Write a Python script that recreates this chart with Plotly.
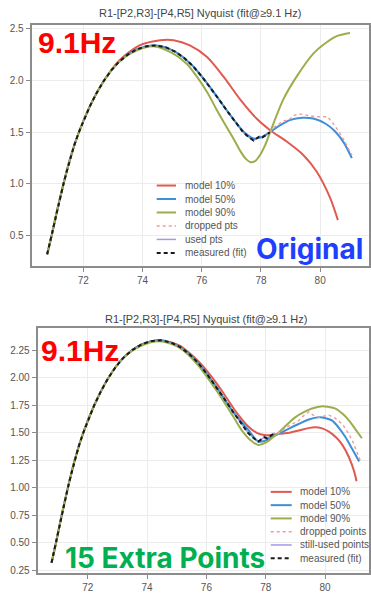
import plotly.graph_objects as go

W, H = 371, 593

# ---------------- data ----------------
meas_x = [70.78, 70.85, 70.93, 71.02, 71.12, 71.22, 71.33, 71.44, 71.56, 71.70, 71.85, 72.02,
          72.22, 72.45, 72.70, 72.95, 73.20, 73.50, 73.80, 74.10, 74.45, 74.80, 75.10, 75.40,
          75.70, 76.00, 76.30, 76.60, 76.90, 77.15, 77.40, 77.60, 77.75, 77.85, 77.95, 78.05,
          78.15, 78.30]
meas_y = [0.32, 0.41, 0.50, 0.62, 0.75, 0.88, 1.00, 1.12, 1.25, 1.38, 1.50, 1.62,
          1.75, 1.88, 2.00, 2.10, 2.18, 2.25, 2.30, 2.33, 2.34, 2.32, 2.28, 2.22,
          2.14, 2.04, 1.93, 1.81, 1.69, 1.59, 1.50, 1.45, 1.42, 1.44, 1.46, 1.45,
          1.47, 1.50]

# Original (top) models
o10_x = [70.78, 70.93, 71.12, 71.33, 71.56, 71.85, 72.22, 72.70, 73.20, 73.90, 74.60, 75.05,
         75.60, 76.17, 76.73, 77.29, 77.86, 78.31, 78.87, 79.43, 79.88, 80.33, 80.60]
o10_y = [0.32, 0.50, 0.75, 1.00, 1.25, 1.50, 1.75, 2.00, 2.19, 2.34, 2.39, 2.39,
         2.34, 2.23, 2.04, 1.82, 1.63, 1.52, 1.41, 1.28, 1.12, 0.87, 0.65]
o50_x = [70.78, 70.93, 71.12, 71.33, 71.56, 71.85, 72.22, 72.70, 73.20, 73.80, 74.45, 75.10,
         75.70, 76.30, 76.90, 77.40, 77.75, 78.00, 78.30, 78.60, 79.00, 79.40, 79.80, 80.20,
         80.50, 80.80, 81.07]
o50_y = [0.32, 0.50, 0.75, 1.00, 1.25, 1.50, 1.75, 2.00, 2.18, 2.30, 2.34, 2.28,
         2.14, 1.93, 1.69, 1.51, 1.44, 1.45, 1.50, 1.56, 1.62, 1.64, 1.63, 1.58,
         1.51, 1.40, 1.25]
o90_x = [70.78, 70.93, 71.12, 71.33, 71.56, 71.85, 72.22, 72.70, 73.20, 73.80, 74.40, 75.04,
         75.50, 75.83, 76.20, 76.50, 76.80, 77.07, 77.30, 77.50, 77.65, 77.80, 77.97, 78.15,
         78.31, 78.76, 79.21, 79.77, 80.22, 80.56, 81.01]
o90_y = [0.32, 0.50, 0.75, 1.00, 1.25, 1.50, 1.75, 2.00, 2.18, 2.29, 2.33, 2.26,
         2.16, 2.04, 1.88, 1.72, 1.57, 1.44, 1.32, 1.24, 1.21, 1.22, 1.28, 1.38,
         1.50, 1.82, 2.04, 2.26, 2.37, 2.43, 2.46]
odrop_x = [78.30, 78.45, 78.60, 78.76, 78.95, 79.10, 79.25, 79.45, 79.65, 79.85, 80.05, 80.25,
           80.45, 80.65, 80.85, 81.07]
odrop_y = [1.50, 1.55, 1.58, 1.61, 1.62, 1.66, 1.68, 1.67, 1.66, 1.65, 1.65, 1.65,
           1.58, 1.50, 1.40, 1.28]

# 15 extra points (bottom) models
e10_x = [70.78, 70.93, 71.12, 71.33, 71.56, 71.85, 72.22, 72.70, 73.20, 73.80, 74.45, 75.10,
         75.40, 75.80, 76.20, 76.60, 77.00, 77.40, 77.70, 77.95, 78.20, 78.43, 78.80, 79.11,
         79.40, 79.67, 79.90, 80.13, 80.40, 80.58, 80.80, 80.98, 81.06]
e10_y = [0.32, 0.50, 0.75, 1.00, 1.25, 1.50, 1.75, 2.00, 2.18, 2.30, 2.34, 2.29,
         2.23, 2.13, 2.00, 1.85, 1.69, 1.56, 1.50, 1.48, 1.48, 1.49, 1.50, 1.52,
         1.54, 1.55, 1.54, 1.51, 1.45, 1.39, 1.28, 1.15, 1.06]
e50_x = [70.78, 70.93, 71.12, 71.33, 71.56, 71.85, 72.22, 72.70, 73.20, 73.80, 74.45, 75.10,
         75.70, 76.30, 76.90, 77.40, 77.75, 78.00, 78.20, 78.43, 78.80, 79.11, 79.45, 79.79,
         80.05, 80.24, 80.45, 80.69, 80.90, 81.15]
e50_y = [0.32, 0.50, 0.75, 1.00, 1.25, 1.50, 1.75, 2.00, 2.18, 2.30, 2.34, 2.28,
         2.14, 1.93, 1.69, 1.53, 1.42, 1.43, 1.46, 1.49, 1.54, 1.58, 1.62, 1.64,
         1.63, 1.61, 1.55, 1.46, 1.36, 1.24]
e90_x = [70.78, 70.93, 71.12, 71.33, 71.56, 71.85, 72.22, 72.70, 73.20, 73.80, 74.45, 75.10,
         75.70, 76.30, 76.90, 77.20, 77.50, 77.75, 78.00, 78.20, 78.43, 78.70, 78.99, 79.30,
         79.56, 79.90, 80.10, 80.35, 80.60, 80.81, 81.00, 81.24]
e90_y = [0.32, 0.50, 0.75, 1.00, 1.25, 1.50, 1.75, 2.00, 2.18, 2.29, 2.33, 2.27,
         2.12, 1.90, 1.65, 1.52, 1.43, 1.39, 1.41, 1.45, 1.50, 1.57, 1.64, 1.69,
         1.72, 1.74, 1.735, 1.72, 1.67, 1.61, 1.54, 1.45]
edrop_x = [78.40, 78.70, 78.90, 79.11, 79.30, 79.45, 79.60, 79.79, 79.95, 80.13, 80.35, 80.58,
           80.75, 80.92, 81.05, 81.20]
edrop_y = [1.49, 1.55, 1.58, 1.61, 1.66, 1.69, 1.66, 1.64, 1.65, 1.66, 1.63, 1.58,
           1.51, 1.43, 1.34, 1.24]

title_text = "R1-[P2,R3]-[P4,R5] Nyquist (fit@≥9.1 Hz)"
legend_top = ["model 10%", "model 50%", "model 90%", "dropped pts", "used pts", "measured (fit)"]
legend_bot = ["model 10%", "model 50%", "model 90%", "dropped points", "still-used points", "measured (fit)"]

# ---------------- styles ----------------
C10, C50, C90 = "#e05a50", "#3f8fd8", "#9aae4c"
CDROP, CUSED, CMEAS = "#f29a9a", "#a39ae6", "#1a1a1a"
styles = [
    dict(color=C10, width=2, dash="solid"),
    dict(color=C50, width=2, dash="solid"),
    dict(color=C90, width=2, dash="solid"),
    dict(color=CDROP, width=1.4, dash="dot"),
    dict(color=CUSED, width=1.5, dash="solid"),
    dict(color=CMEAS, width=2, dash="4px,3px"),
]

fig = go.Figure()

def add_panel(xa, ya, models, drop):
    fig.add_trace(go.Scatter(x=meas_x, y=meas_y, mode="lines", line=styles[4],
                             xaxis=xa, yaxis=ya, showlegend=False))
    for (mx, my), st in zip(models, styles[:3]):
        fig.add_trace(go.Scatter(x=mx, y=my, mode="lines", line=dict(**st, shape="spline", smoothing=0.8),
                                 xaxis=xa, yaxis=ya, showlegend=False))
    fig.add_trace(go.Scatter(x=drop[0], y=drop[1], mode="lines", line=styles[3],
                             xaxis=xa, yaxis=ya, showlegend=False))
    fig.add_trace(go.Scatter(x=meas_x, y=meas_y, mode="lines", line=styles[5],
                             xaxis=xa, yaxis=ya, showlegend=False))

add_panel("x", "y", [(o10_x, o10_y), (o50_x, o50_y), (o90_x, o90_y)], (odrop_x, odrop_y))
add_panel("x2", "y2", [(e10_x, e10_y), (e50_x, e50_y), (e90_x, e90_y)], (edrop_x, edrop_y))

def px(x):
    return x / W

def py(y):
    return 1 - y / H

axis_common = dict(showline=True, mirror=True, linecolor="#8c8c8c", linewidth=2,
                   showgrid=True, gridcolor="#ececec", gridwidth=1, zeroline=False,
                   ticks="outside", ticklen=4, tickcolor="#8c8c8c", tickwidth=1,
                   tickfont=dict(family="Liberation Sans, Arial", size=10, color="#555"))

fig.update_layout(
    width=W, height=H, margin=dict(l=0, r=0, t=0, b=0),
    paper_bgcolor="white", plot_bgcolor="white", showlegend=False,
    xaxis=dict(domain=[px(31.7), px(369)], range=[70.257, 81.65], dtick=2, tick0=0,
               anchor="y", **axis_common),
    yaxis=dict(domain=[py(270), py(24)], range=[0.2025, 2.541], dtick=0.5, tick0=0,
               tickformat=".1f", anchor="x", **axis_common),
    xaxis2=dict(domain=[px(37.7), px(369)], range=[70.314, 81.48], dtick=2, tick0=0,
                anchor="y2", **axis_common),
    yaxis2=dict(domain=[py(581.7), py(332.7)], range=[0.2286, 2.45], dtick=0.25, tick0=0,
                tickformat=".2f", anchor="x2", **axis_common),
)

ann = []
shapes = []
for cx, cy in [(200, 12.7), (206, 323)]:
    ann.append(dict(text=title_text, x=px(cx), y=py(cy), xref="paper", yref="paper",
                    xanchor="center", yanchor="middle", showarrow=False,
                    font=dict(family="Liberation Sans, Arial", size=11, color="#444")))

def add_legend(labels, x0, x1, xt, y0, step):
    for i, (lab, st) in enumerate(zip(labels, styles)):
        yy = y0 + i * step
        shapes.append(dict(type="line", xref="paper", yref="paper", x0=px(x0), x1=px(x1),
                           y0=py(yy), y1=py(yy), line=dict(color=st["color"], width=st["width"], dash=st["dash"])))
        ann.append(dict(text=lab, x=px(xt), y=py(yy), xref="paper", yref="paper",
                        xanchor="left", yanchor="middle", showarrow=False,
                        font=dict(family="Liberation Sans, Arial", size=10, color="#555")))

add_legend(legend_top, 156.7, 176, 182.5, 187.7, 13.7)
add_legend(legend_bot, 270.7, 291.7, 297.5, 499.3, 13.5)

ann.append(dict(text="9.1Hz", x=px(36), y=py(42), xref="paper", yref="paper", xanchor="left",
                yanchor="middle", showarrow=False,
                font=dict(family="Liberation Sans, Arial", size=30, color="#ff0000", weight="bold")))
ann.append(dict(text="9.1Hz", x=px(38.5), y=py(355), xref="paper", yref="paper", xanchor="left",
                yanchor="middle", showarrow=False,
                font=dict(family="Liberation Sans, Arial", size=30, color="#ff0000", weight="bold")))
ann.append(dict(text="Original", x=px(253.5), y=py(252), xref="paper", yref="paper", xanchor="left",
                yanchor="middle", showarrow=False,
                font=dict(family="Inter", size=28, color="#1f3fff", weight="bold")))
ann.append(dict(text="15 Extra Points", x=px(62.5), y=py(567), xref="paper", yref="paper", xanchor="left",
                yanchor="middle", showarrow=False,
                font=dict(family="Inter", size=28, color="#00b050", weight="bold")))

fig.update_layout(annotations=ann, shapes=shapes)

fig.write_html("out.html", config={"displayModeBar": False},
               post_script="document.body.style.margin='0';document.body.style.overflow='hidden';")
